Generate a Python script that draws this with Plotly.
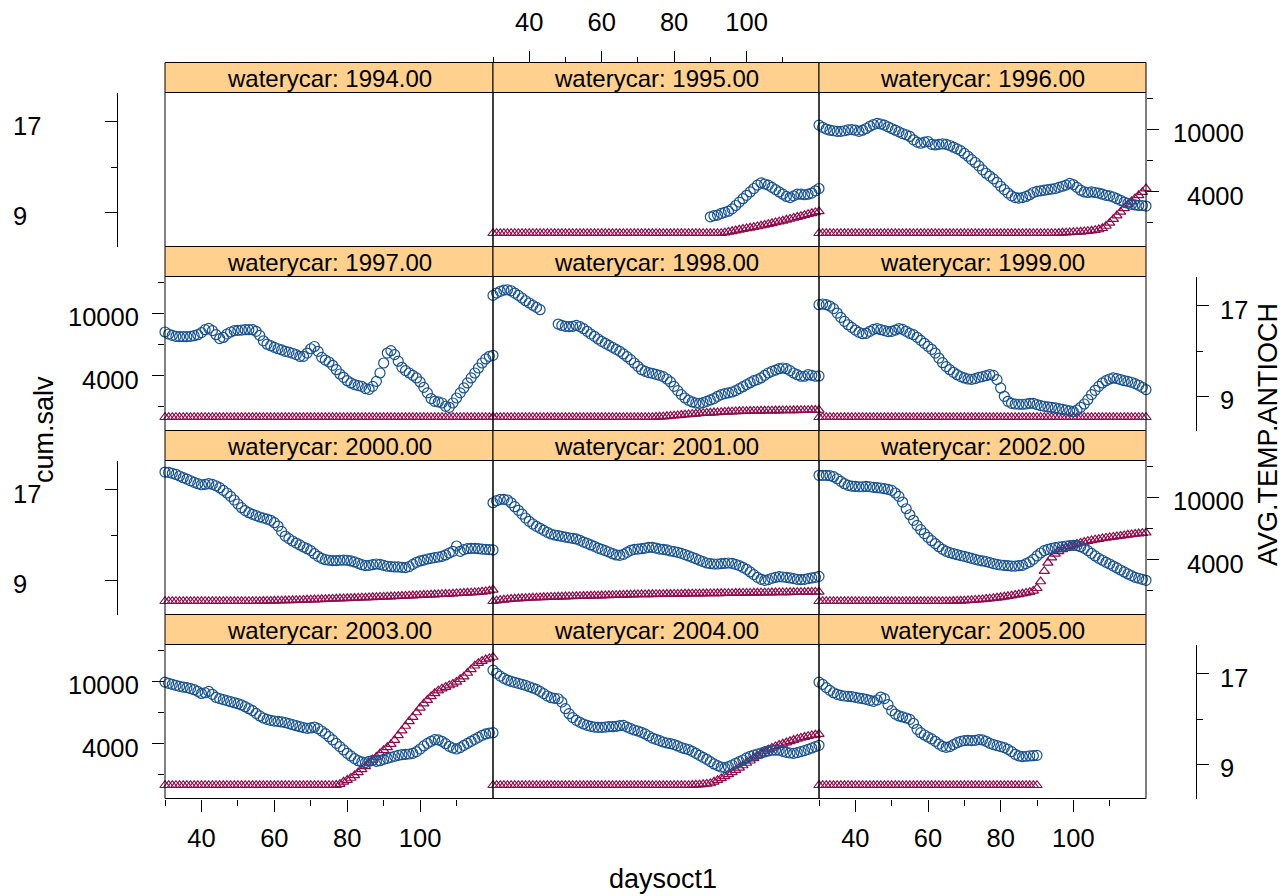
import plotly.graph_objects as go

W, H = 1285, 896

# ---------------- data ----------------
years = [1994, 1995, 1996, 1997, 1998, 1999, 2000, 2001, 2002, 2003, 2004, 2005]
days_all = list(range(30, 121))        # daysoct1 30..120
days_1995_temp = list(range(90, 121))  # temperature recorded from day 90
days_2005 = list(range(30, 91))        # 2005 record ends at day 90

temp_1995 = [8.6, 8.7, 8.75, 8.9, 9.0, 9.1, 9.3, 9.6, 9.9, 10.2,
             10.5, 10.8, 11.1, 11.4, 11.6, 11.5, 11.4, 11.2, 11.0, 10.8,
             10.6, 10.4, 10.3, 10.45, 10.6, 10.6, 10.55, 10.6, 10.7, 10.9,
             11.1]
temp_1996 = [16.7, 16.5, 16.35, 16.25, 16.2, 16.15, 16.15, 16.2, 16.28, 16.3,
             16.25, 16.15, 16.25, 16.4, 16.6, 16.75, 16.85, 16.8, 16.7, 16.55,
             16.4, 16.25, 16.1, 15.95, 15.85, 15.7, 15.4, 15.2, 15.1, 15.2,
             15.25, 15.0, 14.95, 15.0, 15.05, 15.0, 14.9, 14.75, 14.6, 14.45,
             14.2, 13.95, 13.65, 13.4, 13.1, 12.75, 12.45, 12.2, 11.95, 11.65,
             11.3, 11.0, 10.7, 10.45, 10.3, 10.25, 10.3, 10.4, 10.55, 10.75,
             10.85, 10.9, 10.95, 11.0, 11.05, 11.1, 11.2, 11.3, 11.4, 11.55,
             11.45, 11.2, 10.95, 10.8, 10.75, 10.8, 10.75, 10.7, 10.6, 10.5,
             10.45, 10.35, 10.2, 10.05, 9.9, 9.8, 9.7, 9.65, 9.6, 9.6,
             9.55]
temp_1997 = [14.68, 14.5, 14.38, 14.3, 14.27, 14.27, 14.27, 14.3, 14.35, 14.44,
             14.62, 14.88, 15.0, 14.8, 14.44, 14.1, 14.2, 14.5, 14.68, 14.8,
             14.82, 14.85, 14.88, 14.88, 14.88, 14.74, 14.38, 13.9, 13.6, 13.47,
             13.32, 13.2, 13.1, 12.97, 12.9, 12.8, 12.68, 12.53, 12.53, 12.82,
             13.2, 13.4, 12.97, 12.44, 12.2, 12.03, 11.74, 11.35, 10.97, 10.68,
             10.38, 10.18, 10.03, 9.94, 9.88, 9.68, 9.62, 9.88, 10.32, 11.06,
             11.94, 12.82, 13.03, 12.68, 12.1, 11.56, 11.27, 11.06, 10.85, 10.62,
             10.27, 9.79, 9.3, 8.8, 8.56, 8.5, 8.41, 8.12, 8.03, 8.41,
             8.85, 9.3, 9.74, 10.18, 10.62, 11.06, 11.5, 11.94, 12.3, 12.53,
             12.62]
temp_1998 = [17.91, 18.12, 18.27, 18.38, 18.41, 18.32, 18.12, 17.91, 17.68, 17.44,
             17.24, 17.03, 16.85, 16.65, None, None, None, None, 15.38, 15.26,
             15.18, 15.15, 15.18, 15.26, 15.15, 14.97, 14.74, 14.5, 14.3, 14.06,
             13.85, 13.68, 13.5, 13.32, 13.15, 12.97, 12.74, 12.5, 12.24, 11.94,
             11.65, 11.35, 11.21, 11.09, 11.03, 10.94, 10.85, 10.74, 10.53, 10.27,
             9.88, 9.5, 9.15, 8.85, 8.65, 8.5, 8.41, 8.38, 8.44, 8.56,
             8.68, 8.8, 9.0, 9.15, 9.24, 9.3, 9.38, 9.5, 9.68, 9.85,
             10.03, 10.2, 10.38, 10.47, 10.62, 10.85, 11.06, 11.21, 11.32, 11.44,
             11.5, 11.44, 11.27, 11.06, 10.91, 10.77, 10.77, 10.91, 10.85, 10.77,
             10.8]
temp_1999 = [17.09, 17.15, 17.09, 16.97, 16.74, 16.35, 15.97, 15.62, 15.32, 15.09,
             14.85, 14.65, 14.53, 14.56, 14.74, 14.91, 14.97, 14.88, 14.8, 14.71,
             14.74, 14.85, 14.97, 14.91, 14.74, 14.56, 14.44, 14.21, 13.94, 13.68,
             13.41, 13.15, 12.82, 12.38, 11.97, 11.62, 11.35, 11.12, 10.91, 10.74,
             10.62, 10.53, 10.5, 10.56, 10.68, 10.74, 10.82, 10.91, 10.85, 10.47,
             9.74, 9.0, 8.56, 8.38, 8.32, 8.3, 8.3, 8.32, 8.38, 8.38,
             8.27, 8.18, 8.12, 8.06, 8.03, 7.97, 7.91, 7.85, 7.79, 7.71,
             7.65, 7.79, 8.03, 8.32, 8.71, 9.15, 9.53, 9.88, 10.18, 10.38,
             10.53, 10.62, 10.56, 10.47, 10.38, 10.32, 10.24, 10.12, 9.97, 9.79,
             9.59]
temp_2000 = [18.56, 18.53, 18.44, 18.35, 18.21, 18.06, 17.94, 17.79, 17.65, 17.53,
             17.44, 17.47, 17.53, 17.47, 17.35, 17.18, 16.94, 16.71, 16.41, 16.09,
             15.74, 15.41, 15.15, 14.97, 14.82, 14.71, 14.59, 14.5, 14.41, 14.3,
             14.09, 13.79, 13.32, 12.91, 12.68, 12.47, 12.29, 12.12, 11.94, 11.79,
             11.62, 11.35, 11.12, 10.94, 10.82, 10.77, 10.74, 10.74, 10.77, 10.79,
             10.77, 10.71, 10.62, 10.5, 10.38, 10.3, 10.32, 10.38, 10.44, 10.41,
             10.32, 10.24, 10.21, 10.18, 10.18, 10.15, 10.12, 10.21, 10.41, 10.59,
             10.71, 10.79, 10.88, 10.94, 11.0, 11.06, 11.12, 11.24, 11.41, 11.56,
             12.03, 11.56, 11.71, 11.79, 11.82, 11.82, 11.79, 11.76, 11.74, 11.71,
             11.68]
temp_2001 = [15.85, 16.03, 16.15, 16.15, 16.09, 15.85, 15.5, 15.18, 14.85, 14.5,
             14.21, 13.97, 13.76, 13.59, 13.41, 13.24, 13.09, 13.0, 12.94, 12.88,
             12.82, 12.76, 12.71, 12.65, 12.53, 12.38, 12.27, 12.12, 12.0, 11.85,
             11.74, 11.62, 11.5, 11.35, 11.24, 11.21, 11.29, 11.47, 11.65, 11.74,
             11.76, 11.79, 11.85, 11.91, 11.91, 11.85, 11.76, 11.74, 11.68, 11.59,
             11.53, 11.47, 11.38, 11.27, 11.15, 11.03, 10.91, 10.77, 10.65, 10.53,
             10.47, 10.44, 10.44, 10.47, 10.5, 10.53, 10.5, 10.41, 10.3, 10.15,
             9.97, 9.74, 9.5, 9.26, 9.09, 9.0, 9.06, 9.18, 9.26, 9.32,
             9.29, 9.26, 9.21, 9.15, 9.09, 9.06, 9.09, 9.15, 9.21, 9.26,
             9.35]
temp_2002 = [18.27, 18.27, 18.27, 18.24, 18.15, 17.97, 17.74, 17.53, 17.38, 17.32,
             17.29, 17.26, 17.26, 17.29, 17.26, 17.21, 17.18, 17.15, 17.09, 17.03,
             16.94, 16.71, 16.41, 15.91, 15.32, 14.79, 14.3, 13.85, 13.47, 13.12,
             12.79, 12.5, 12.24, 11.97, 11.74, 11.56, 11.44, 11.35, 11.26, 11.18,
             11.12, 11.03, 10.94, 10.85, 10.77, 10.71, 10.65, 10.56, 10.47, 10.41,
             10.35, 10.32, 10.29, 10.26, 10.26, 10.29, 10.32, 10.47, 10.62, 10.85,
             11.15, 11.41, 11.62, 11.74, 11.82, 11.88, 11.94, 11.97, 12.03, 12.06,
             12.09, 12.06, 11.97, 11.82, 11.62, 11.38, 11.15, 10.94, 10.77, 10.59,
             10.44, 10.26, 10.09, 9.91, 9.74, 9.56, 9.41, 9.26, 9.18, 9.09,
             9.0]
temp_2003 = [16.26, 16.15, 16.06, 15.97, 15.88, 15.82, 15.77, 15.68, 15.59, 15.44,
             15.26, 15.32, 15.44, 15.18, 14.91, 14.8, 14.71, 14.62, 14.53, 14.44,
             14.35, 14.24, 14.09, 13.91, 13.74, 13.5, 13.27, 13.09, 12.97, 12.88,
             12.82, 12.79, 12.74, 12.68, 12.59, 12.5, 12.41, 12.32, 12.24, 12.18,
             12.21, 12.29, 12.15, 11.94, 11.71, 11.44, 11.15, 10.85, 10.56, 10.27,
             9.97, 9.74, 9.5, 9.32, 9.21, 9.15, 9.26, 9.35, 9.26, 9.32,
             9.44, 9.53, 9.62, 9.71, 9.79, 9.85, 9.88, 9.91, 9.97, 10.12,
             10.35, 10.62, 10.85, 11.03, 11.18, 11.15, 11.03, 10.82, 10.59, 10.44,
             10.35, 10.47, 10.68, 10.85, 11.03, 11.21, 11.38, 11.56, 11.68, 11.76,
             11.79]
temp_2004 = [17.32, 17.03, 16.79, 16.59, 16.44, 16.32, 16.24, 16.15, 16.06, 15.97,
             15.85, 15.74, 15.62, 15.44, 15.24, 15.03, 14.88, 14.82, 14.79, 14.5,
             13.91, 13.47, 13.12, 12.88, 12.71, 12.56, 12.44, 12.35, 12.29, 12.26,
             12.26, 12.29, 12.32, 12.32, 12.35, 12.41, 12.44, 12.29, 12.15, 12.03,
             11.94, 11.82, 11.68, 11.5, 11.32, 11.21, 11.09, 10.97, 10.88, 10.82,
             10.74, 10.62, 10.47, 10.38, 10.3, 10.15, 9.97, 9.79, 9.62, 9.44,
             9.24, 9.03, 8.88, 8.76, 8.71, 8.79, 8.94, 9.09, 9.24, 9.38,
             9.56, 9.71, 9.82, 9.91, 10.0, 10.09, 10.18, 10.24, 10.26, 10.24,
             10.15, 10.06, 10.0, 9.97, 10.03, 10.12, 10.21, 10.32, 10.44, 10.56,
             10.68]
temp_2005 = [16.26, 16.06, 15.77, 15.53, 15.32, 15.18, 15.09, 15.03, 15.0, 14.97,
             14.91, 14.85, 14.8, 14.74, 14.65, 14.56, 14.68, 14.94, 14.8, 14.27,
             13.74, 13.44, 13.27, 13.18, 13.09, 12.97, 12.62, 12.09, 11.79, 11.59,
             11.41, 11.24, 11.03, 10.79, 10.59, 10.5, 10.56, 10.74, 10.91, 11.03,
             11.09, 11.12, 11.09, 11.12, 11.18, 11.15, 11.03, 10.85, 10.74, 10.65,
             10.56, 10.47, 10.32, 10.12, 9.88, 9.74, 9.68, 9.71, 9.74, 9.76,
             9.79]

salv_1995 = [0, 0, 0, 0, 0, 0, 0, 0, 0, 0,
             0, 0, 0, 0, 0, 0, 0, 0, 0, 0,
             0, 0, 0, 0, 0, 0, 0, 0, 0, 0,
             0, 0, 0, 0, 0, 0, 0, 0, 0, 0,
             0, 0, 0, 0, 0, 0, 0, 0, 0, 0,
             0, 0, 0, 0, 0, 0, 0, 0, 0, 0,
             0, 0, 0, 0, 60, 120, 190, 260, 330, 400,
             460, 520, 590, 650, 720, 800, 880, 960, 1040, 1120,
             1200, 1290, 1380, 1470, 1560, 1650, 1740, 1830, 1920, 2010,
             2100]
salv_1996 = [0, 0, 0, 0, 0, 0, 0, 0, 0, 0,
             0, 0, 0, 0, 0, 0, 0, 0, 0, 0,
             0, 0, 0, 0, 0, 0, 0, 0, 0, 0,
             0, 0, 0, 0, 0, 0, 0, 0, 0, 0,
             0, 0, 0, 0, 0, 0, 0, 0, 0, 0,
             0, 0, 0, 0, 0, 0, 0, 0, 0, 0,
             0, 0, 0, 0, 0, 0, 20, 40, 60, 80,
             100, 120, 140, 170, 200, 240, 290, 360, 480, 700,
             1000, 1350, 1700, 2050, 2400, 2750, 3050, 3350, 3650, 3950,
             4300]
salv_1997 = [0, 0, 0, 0, 0, 0, 0, 0, 0, 0,
             0, 0, 0, 0, 0, 0, 0, 0, 0, 0,
             0, 0, 0, 0, 0, 0, 0, 0, 0, 0,
             0, 0, 0, 0, 0, 0, 0, 0, 0, 0,
             0, 0, 0, 0, 0, 0, 0, 0, 0, 0,
             0, 0, 0, 0, 0, 0, 0, 0, 0, 0,
             0, 0, 0, 0, 0, 0, 0, 0, 0, 0,
             0, 0, 0, 0, 0, 0, 0, 0, 0, 0,
             0, 0, 0, 0, 0, 0, 0, 0, 0, 0,
             0]
salv_1998 = [0, 0, 0, 0, 0, 0, 0, 0, 0, 0,
             0, 0, 0, 0, 0, 0, 0, 0, 0, 0,
             0, 0, 0, 0, 0, 0, 0, 0, 0, 0,
             0, 0, 0, 0, 0, 0, 0, 0, 0, 0,
             0, 0, 0, 0, 0, 20, 40, 60, 90, 120,
             150, 180, 210, 240, 270, 300, 330, 360, 390, 410,
             430, 450, 470, 490, 510, 525, 540, 555, 570, 580,
             590, 600, 610, 615, 620, 625, 630, 635, 640, 645,
             650, 655, 660, 665, 670, 675, 680, 685, 690, 695,
             700]
salv_1999 = [0, 0, 0, 0, 0, 0, 0, 0, 0, 0,
             0, 0, 0, 0, 0, 0, 0, 0, 0, 0,
             0, 0, 0, 0, 0, 0, 0, 0, 0, 0,
             0, 0, 0, 0, 0, 0, 0, 0, 0, 0,
             0, 0, 0, 0, 0, 0, 0, 0, 0, 0,
             0, 0, 0, 0, 0, 0, 0, 0, 0, 0,
             0, 0, 0, 0, 0, 0, 0, 0, 0, 0,
             0, 0, 0, 0, 0, 0, 0, 0, 0, 0,
             0, 0, 0, 0, 0, 0, 0, 0, 0, 0,
             0]
salv_2000 = [0, 0, 0, 0, 0, 0, 0, 0, 0, 0,
             0, 0, 0, 0, 0, 0, 0, 0, 0, 0,
             0, 0, 0, 0, 0, 0, 10, 20, 25, 30,
             40, 50, 60, 70, 80, 90, 100, 110, 125, 140,
             150, 160, 175, 190, 200, 210, 225, 240, 255, 270,
             280, 295, 310, 325, 340, 350, 365, 380, 395, 410,
             420, 435, 450, 465, 480, 500, 515, 530, 545, 560,
             580, 595, 610, 625, 640, 660, 675, 690, 705, 720,
             750, 770, 790, 810, 830, 850, 880, 910, 950, 1010,
             1100]
salv_2001 = [0, 50, 100, 140, 180, 210, 240, 260, 280, 300,
             320, 335, 350, 365, 380, 395, 410, 420, 430, 440,
             450, 460, 470, 480, 490, 500, 510, 520, 530, 540,
             550, 560, 570, 580, 590, 600, 610, 620, 630, 640,
             650, 655, 660, 665, 670, 675, 680, 685, 690, 695,
             700, 705, 710, 715, 720, 725, 730, 735, 740, 745,
             750, 755, 760, 765, 770, 775, 780, 785, 790, 795,
             800, 805, 810, 815, 820, 825, 830, 835, 840, 845,
             850, 855, 860, 865, 870, 875, 880, 885, 890, 895,
             900]
salv_2002 = [0, 0, 0, 0, 0, 0, 0, 0, 0, 0,
             0, 0, 0, 0, 0, 0, 0, 0, 0, 0,
             0, 0, 0, 0, 0, 0, 0, 0, 0, 0,
             0, 0, 0, 0, 0, 0, 10, 20, 30, 45,
             60, 80, 100, 120, 150, 180, 210, 250, 290, 330,
             380, 430, 480, 540, 600, 660, 720, 800, 880, 1000,
             1250, 1900, 2900, 3700, 4200, 4550, 4800, 5000, 5150, 5300,
             5420, 5520, 5610, 5700, 5780, 5850, 5920, 5980, 6040, 6090,
             6140, 6190, 6240, 6290, 6340, 6390, 6430, 6470, 6510, 6550,
             6590]
salv_2003 = [0, 0, 0, 0, 0, 0, 0, 0, 0, 0,
             0, 0, 0, 0, 0, 0, 0, 0, 0, 0,
             0, 0, 0, 0, 0, 0, 0, 0, 0, 0,
             0, 0, 0, 0, 0, 0, 0, 0, 0, 0,
             0, 0, 0, 0, 0, 0, 0, 20, 100, 330,
             500, 700, 950, 1230, 1520, 1820, 2150, 2450, 2720, 3050,
             3370, 3650, 3950, 4350, 4800, 5250, 5700, 6150, 6550, 7000,
             7450, 7850, 8200, 8550, 8850, 9100, 9300, 9450, 9600, 9750,
             9950, 10200, 10450, 10800, 11150, 11500, 11750, 11950, 12100, 12200,
             12340]
salv_2004 = [0, 0, 0, 0, 0, 0, 0, 0, 0, 0,
             0, 0, 0, 0, 0, 0, 0, 0, 0, 0,
             0, 0, 0, 0, 0, 0, 0, 0, 0, 0,
             0, 0, 0, 0, 0, 0, 0, 0, 0, 0,
             0, 0, 0, 0, 0, 0, 0, 0, 0, 0,
             0, 0, 0, 0, 0, 20, 40, 60, 90, 130,
             170, 330, 480, 660, 850, 1040, 1230, 1450, 1680, 1900,
             2140, 2360, 2590, 2830, 3050, 3250, 3420, 3590, 3740, 3870,
             3990, 4110, 4230, 4350, 4460, 4560, 4640, 4720, 4790, 4850,
             4920]
salv_2005 = [0, 0, 0, 0, 0, 0, 0, 0, 0, 0,
             0, 0, 0, 0, 0, 0, 0, 0, 0, 0,
             0, 0, 0, 0, 0, 0, 0, 0, 0, 0,
             0, 0, 0, 0, 0, 0, 0, 0, 0, 0,
             0, 0, 0, 0, 0, 0, 0, 0, 0, 0,
             0, 0, 0, 0, 0, 0, 0, 0, 0, 0,
             0]

day_tick_vals = [40, 60, 80, 100]
day_tick_text = ["40", "60", "80", "100"]
day_minor_vals = [30, 50, 70, 90, 110]
salv_tick_vals = [4000, 10000]
salv_tick_text = ["4000", "10000"]
salv_minor_vals = [1000, 7000, 13000]
temp_tick_vals = [9, 17]
temp_tick_text = ["9", "17"]
temp_minor_vals = [13]
strip_label = "waterycar"

# per panel: (temp days, temp values, salvage days, salvage values)
panel_data = {
    1994: ([], [], [], []),
    1995: (days_1995_temp, temp_1995, days_all, salv_1995),
    1996: (days_all, temp_1996, days_all, salv_1996),
    1997: (days_all, temp_1997, days_all, salv_1997),
    1998: (days_all, temp_1998, days_all, salv_1998),
    1999: (days_all, temp_1999, days_all, salv_1999),
    2000: (days_all, temp_2000, days_all, salv_2000),
    2001: (days_all, temp_2001, days_all, salv_2001),
    2002: (days_all, temp_2002, days_all, salv_2002),
    2003: (days_all, temp_2003, days_all, salv_2003),
    2004: (days_all, temp_2004, days_all, salv_2004),
    2005: (days_2005, temp_2005, days_2005, salv_2005),
}

# ---------------- styling / layout ----------------
FONT = "Liberation Sans, Arial, Helvetica, sans-serif"
CIRCLE_COL = "#17528f"
TRI_COL = "#8e0c4c"
STRIP_COL = "#FFD08E"
TICK_FS = 25.5
STRIP_FS = 24
TITLE_FS = 27

XR = [30, 120]
SALV_RANGE = [-1275, 13545]
TEMP_RANGE = [5.98, 19.58]

col_px = [(165.0, 493.0), (493.0, 819.0), (819.0, 1146.0)]
STRIP_TOP0 = 62.5
STRIP_H = 30.0
BODY_H = 154.0
ROW_PITCH = 184.0


def fx(px):
    return px / W


def fy(py):
    return 1 - py / H


fig = go.Figure()
shapes = []
annots = []
layout_axes = {}

for i, yr in enumerate(years):
    r, c = divmod(i, 3)
    n = i + 1
    sx = "" if n == 1 else str(n)
    tn = n + 12
    x0, x1 = col_px[c]
    st = STRIP_TOP0 + r * ROW_PITCH
    bt = st + STRIP_H
    bb = bt + BODY_H
    xdom = [fx(x0), fx(x1)]
    ydom = [fy(bb), fy(bt)]

    tdays, tvals, sdays, svals = panel_data[yr]
    fig.add_trace(go.Scatter(
        x=sdays, y=svals, xaxis="x" + sx, yaxis="y" + sx, mode="markers",
        marker=dict(symbol="triangle-up-open", size=9, color=TRI_COL,
                    line=dict(width=1.2, color=TRI_COL)),
        showlegend=False, cliponaxis=False, hoverinfo="skip"))
    fig.add_trace(go.Scatter(
        x=tdays, y=tvals, xaxis="x" + sx, yaxis="y" + str(tn), mode="markers",
        marker=dict(symbol="circle-open", size=10, color=CIRCLE_COL,
                    line=dict(width=1.2, color=CIRCLE_COL)),
        showlegend=False, cliponaxis=False, hoverinfo="skip"))

    # x axis
    xa = dict(domain=xdom, range=XR, anchor="y" + sx, showgrid=False,
              zeroline=False, showline=False, ticks="", showticklabels=False,
              fixedrange=True)
    if (r == 3 and c in (0, 2)) or (r == 0 and c == 1):
        xa.update(ticks="outside", ticklen=12, tickwidth=1, tickcolor="black",
                  tickmode="array", tickvals=day_tick_vals, ticktext=day_tick_text,
                  showticklabels=True, ticklabelstandoff=5,
                  tickfont=dict(size=TICK_FS, family=FONT, color="black"),
                  minor=dict(tickmode="array", tickvals=day_minor_vals,
                             ticks="outside", ticklen=6, tickwidth=1,
                             tickcolor="black", showgrid=False))
        if r == 0:
            xa.update(side="top", anchor="free", position=fy(STRIP_TOP0),
                      ticklabelstandoff=9)
    layout_axes["xaxis" + sx] = xa

    # cum.salv axis
    ya = dict(domain=ydom, range=SALV_RANGE, anchor="x" + sx, showgrid=False,
              zeroline=False, showline=False, ticks="", showticklabels=False,
              fixedrange=True)
    show_salv = (r in (0, 2) and c == 2) or (r in (1, 3) and c == 0)
    if show_salv:
        ya.update(side="right" if c == 2 else "left", ticks="outside",
                  ticklen=12, tickwidth=1, tickcolor="black",
                  tickmode="array", tickvals=salv_tick_vals,
                  minor=dict(tickmode="array", tickvals=salv_minor_vals,
                             ticks="outside", ticklen=6, tickwidth=1,
                             tickcolor="black", showgrid=False))
        for v, t in zip(salv_tick_vals, salv_tick_text):
            annots.append(dict(
                x=fx(1246 if c == 2 else 141), xref="paper", xanchor="right",
                y=v, yref="y" + sx, yanchor="middle", yshift=-4,
                text=t, showarrow=False,
                font=dict(size=TICK_FS, family=FONT, color="black")))
    layout_axes["yaxis" + sx] = ya

    # temperature axis (overlay)
    ta = dict(domain=ydom, range=TEMP_RANGE, overlaying="y" + sx,
              anchor="x" + sx, showgrid=False, zeroline=False,
              showline=False, ticks="", showticklabels=False, fixedrange=True)
    show_temp = (r in (0, 2) and c == 0) or (r in (1, 3) and c == 2)
    if show_temp:
        left = c == 0
        ta.update(anchor="free", position=fx(116.5 if left else 1195.5),
                  side="left" if left else "right", showline=True,
                  linecolor="black", linewidth=1, ticks="outside",
                  ticklen=12, tickwidth=1, tickcolor="black",
                  tickmode="array", tickvals=temp_tick_vals,
                  minor=dict(tickmode="array", tickvals=temp_minor_vals,
                             ticks="outside", ticklen=6, tickwidth=1,
                             tickcolor="black", showgrid=False))
        for v, t in zip(temp_tick_vals, temp_tick_text):
            annots.append(dict(
                x=fx(11 if left else 1218), xref="paper", xanchor="left",
                y=v, yref="y" + str(tn), yanchor="middle", yshift=-4,
                text=t, showarrow=False,
                font=dict(size=TICK_FS, family=FONT, color="black")))
    layout_axes["yaxis" + str(tn)] = ta

    # strip
    shapes.append(dict(type="rect", xref="paper", yref="paper",
                       x0=fx(x0), x1=fx(x1), y0=fy(bt), y1=fy(st),
                       fillcolor=STRIP_COL, line=dict(color="black", width=1),
                       layer="below"))
    annots.append(dict(x=fx((x0 + x1) / 2), y=fy(st + STRIP_H / 2), xref="paper",
                       yref="paper", xanchor="center", yanchor="middle",
                       yshift=-1, text="%s: %d.00" % (strip_label, yr),
                       showarrow=False,
                       font=dict(size=STRIP_FS, family=FONT, color="black")))
    # panel border
    shapes.append(dict(type="rect", xref="paper", yref="paper",
                       x0=fx(x0), x1=fx(x1), y0=fy(bb), y1=fy(bt),
                       line=dict(color="black", width=1), layer="above"))

# axis titles
annots.append(dict(x=fx(663), y=fy(879), xref="paper", yref="paper",
                   text="daysoct1", showarrow=False, xanchor="center",
                   yanchor="middle",
                   font=dict(size=TITLE_FS, family=FONT, color="black")))
annots.append(dict(x=fx(44), y=fy(430), xref="paper", yref="paper",
                   text="cum.salv", showarrow=False, textangle=-90,
                   xanchor="center", yanchor="middle",
                   font=dict(size=TITLE_FS, family=FONT, color="black")))
annots.append(dict(x=fx(1268), y=fy(435), xref="paper", yref="paper",
                   text="AVG.TEMP.ANTIOCH", showarrow=False, textangle=-90,
                   xanchor="center", yanchor="middle",
                   font=dict(size=TITLE_FS, family=FONT, color="black")))

fig.update_layout(
    width=W, height=H, autosize=False,
    margin=dict(l=0, r=0, t=0, b=0, pad=0),
    paper_bgcolor="white", plot_bgcolor="rgba(0,0,0,0)",
    font=dict(family=FONT, color="black"),
    showlegend=False, shapes=shapes, annotations=annots,
    **layout_axes)

fig.write_html(
    "out.html",
    config={"displayModeBar": False, "staticPlot": True},
    post_script="document.body.style.margin='0';document.body.style.padding='0';"
                "document.body.style.overflow='hidden';")
